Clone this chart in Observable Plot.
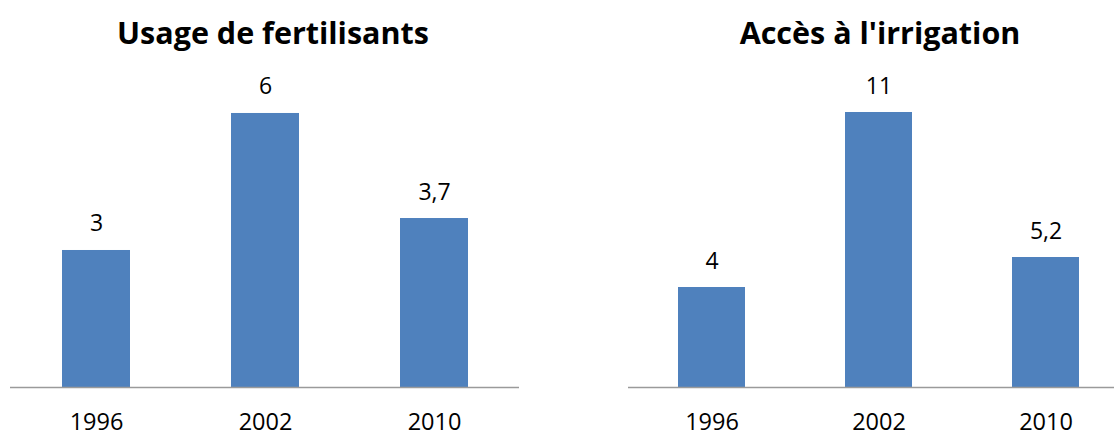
<!DOCTYPE html>
<html>
<head>
<meta charset="utf-8">
<script src="https://cdn.jsdelivr.net/npm/d3@7"></script>
<script src="https://cdn.jsdelivr.net/npm/@observablehq/plot@0.6"></script>
<style>
  html, body { margin: 0; padding: 0; background: #fff; }
  #wrap { position: relative; width: 1114px; height: 433px; overflow: hidden; font-family: "Open Sans", sans-serif; }
  .panel { position: absolute; top: 0; }
  .panel svg { max-width: none !important; }
  .title { position: absolute; width: 460px; text-align: center; font-weight: bold; font-size: 30.5px; line-height: 30px; color: #000; white-space: nowrap; }
</style>
</head>
<body>
<div id="wrap"></div>
<script>
const years = ["1996", "2002", "2010"];
const fertilisants = [3, 6, 3.7];
const irrigation = [4, 11, 5.2];
const titles = ["Usage de fertilisants", "Accès à l'irrigation"];

const fmt = v => String(v).replace(".", ",");
const wrap = document.getElementById("wrap");

function panel(values, opts) {
  const data = years.map((y, i) => ({year: y, value: values[i]}));
  const svg = Plot.plot({
    width: opts.width,
    height: 433,
    marginLeft: opts.marginLeft,
    marginRight: opts.marginRight,
    marginTop: 387 - opts.yMax * opts.ppu,
    marginBottom: 46,
    style: {fontFamily: "'Open Sans', sans-serif", fontSize: "23px", color: "#000", background: "transparent", overflow: "visible"},
    x: {domain: years, paddingInner: 0.6, paddingOuter: 0.3, label: null},
    y: {domain: [0, opts.yMax], axis: null},
    marks: [
      Plot.barY(data, {x: "year", y: "value", fill: "#4F81BD"}),
      Plot.ruleY([0], {stroke: "#9a9a9a", strokeWidth: 1.5}),
      Plot.text(data, {x: "year", y: "value", text: d => fmt(d.value), dy: -19, lineAnchor: "bottom", fontSize: 23, fill: "#000"}),
      Plot.axisX({tickSize: 0, tickPadding: 25.5, fontSize: 23.5, fill: "#000", label: null})
    ]
  });
  svg.style.maxWidth = "none";
  return svg;
}

const left = panel(fertilisants, {width: 560, marginLeft: 10, marginRight: 41, yMax: 7, ppu: 45.67});
const right = panel(irrigation, {width: 580, marginLeft: 68, marginRight: 11, yMax: 12, ppu: 25});

const d1 = document.createElement("div"); d1.className = "panel"; d1.style.left = "0px"; d1.style.width = "560px"; d1.appendChild(left);
const d2 = document.createElement("div"); d2.className = "panel"; d2.style.left = "560px"; d2.style.width = "580px"; d2.appendChild(right);
wrap.appendChild(d1); wrap.appendChild(d2);

[[titles[0], 273], [titles[1], 880]].forEach(([t, cx]) => {
  const el = document.createElement("div");
  el.className = "title";
  el.textContent = t;
  el.style.left = (cx - 230) + "px";
  el.style.top = "16.5px";
  wrap.appendChild(el);
});
</script>
</body>
</html>
